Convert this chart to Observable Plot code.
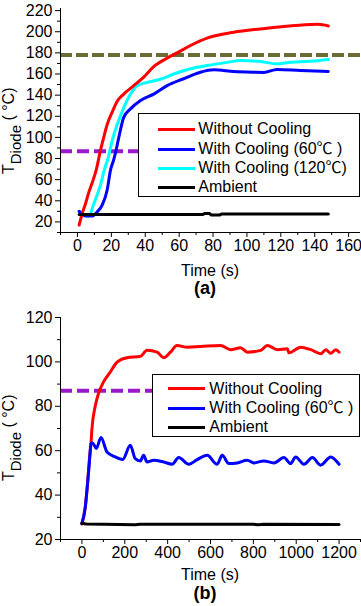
<!DOCTYPE html>
<html><head><meta charset="utf-8">
<script src="https://cdn.jsdelivr.net/npm/d3@7"></script>
<script src="https://cdn.jsdelivr.net/npm/@observablehq/plot@0.6"></script>
<style>
body{margin:0;background:#fff;font-family:"Liberation Sans",Arial,"Noto Sans CJK SC",sans-serif;color:#000;}
#wrap{position:relative;width:361px;height:606px;overflow:hidden;background:#fff;}
.panel{position:absolute;left:0;}
.legend{position:absolute;box-sizing:border-box;border:1px solid #000;background:#fff;}
.row{position:absolute;height:20px;font-size:16px;line-height:20px;white-space:nowrap;}
.sw{position:absolute;height:3px;width:37px;}
.ylab{position:absolute;left:0;top:0;transform-origin:0 0;font-size:16px;line-height:16px;white-space:nowrap;}
.ylab span{font-size:15px;position:relative;top:7px;}
.xlab{position:absolute;font-size:16px;line-height:12px;transform:translateX(-50%);white-space:nowrap;}
.tag{position:absolute;font-size:18px;line-height:14px;font-weight:bold;transform:translateX(-50%);white-space:nowrap;}
</style></head>
<body>
<div id="wrap">
  <div class="panel" id="pa" style="top:0"></div>
  <div class="panel" id="pb" style="top:300px"></div>
</div>
<script>
// ---------- Panel (a) data ----------
const aTimeNoCool = [1,2.8,4.7,6.5,8.7,11.2,13.6,15.5,17.5,20.5,23.4,27.3,33.2,39.1,45,52.9,58.8,66.7,76.5,92.2,108,121.7,137.5,142,148];
const aTempNoCool = [17,28,37,47,57,70,88,100,112,124,134,141,149,157,167,175,180,187,194,199.5,202.7,205,206.8,207,205.5];
const aTimeCool60 = [1,3,5.7,8.7,11.6,14.6,17.5,19.5,21.4,22.8,24.4,27.3,31.3,37.2,45,52.9,62.7,72.5,80.4,92.2,104,110,117.8,131.6,148];
const aTempCool60 = [30,27,25.5,25.5,29.5,36,50,69,79,88,100,119,127,135,141,149,155.5,161.7,164,162.4,161.7,161.5,164.3,163.3,162.4];
const aTimeCool120 = [1,3,4.7,6.7,9.6,13.6,15.8,18,20.5,23.4,27.3,31.3,35.2,41.1,49,56.8,66.7,76.5,88.3,96.2,108,117.8,125.7,137.5,148];
const aTempCool120 = [30,27,25.5,25.5,37,55,69,80,97,112,128,141,149,152,155,160,165,168,171,172.8,171.8,169.6,171.2,172,173.7];
const aTimeAmbient = [1,20,40,60,74,75,78,79,84,85,100,120,148];
const aTempAmbient = [27,27,27,27,27,28,28,26.5,26.5,27.5,27.5,27.5,27.5];
const aLimitUpper = [178];
const aLimitLower = [87];
const aXDomain = [-10,167], aYDomain = [10,222];
const aXTicks = [0,20,40,60,80,100,120,140,160];
const aXMinor = [-10,10,30,50,70,90,110,130,150];
const aYTicks = [20,40,60,80,100,120,140,160,180,200,220];
const aYMinor = [10,30,50,70,90,110,130,150,170,190,210];

// ---------- Panel (b) data ----------
const bTimeNoCool = [0,15,26,35.6,42,46.8,62,78,101,132,164,210,273,304,351,382,413,444,491,553,647,694,740,772,834,865,912,959,966,1021,1068,1115,1138,1161,1185,1200];
const bTempNoCool = [27,34,45,57,63,70,80,86,91,95.4,99.9,101.9,102.5,105.2,104.4,101.9,104.4,107.4,106.6,106.9,107.4,105.5,106.4,104.4,105.2,107.4,105.5,105.9,104.1,106.6,105.5,103.7,105.5,103.9,105.5,104.4];
const bTimeCool60 = [0,15.6,26.3,35.6,42,50,66.9,88.8,117,155.7,190,225.8,249,272.6,288,304,334.8,381.6,421,451.7,498.5,537.8,584.5,631,654.7,685.6,724.8,771.6,802.4,849,895.9,942.7,974,997.4,1036,1075.5,1114,1161,1200];
const bTempCool60 = [27.2,34.7,45.2,55.7,63.2,63.5,61,65.9,59.4,57.2,56,62.4,56.4,55.4,57.9,54.9,55.7,54.9,53.9,56.9,53.9,56,57.9,53.9,57.9,54.2,54.5,55.7,54.5,55.4,54.5,56.9,54.2,57.2,53.9,56.9,53.5,57.2,53.9];
const bTimeAmbient = [0,20,100,250,270,600,800,820,850,1200];
const bTempAmbient = [27.3,27,26.9,26.6,26.9,26.9,26.9,26.6,26.9,26.8];
const bLimitLower = [87];
const bXDomain = [-100,1300], bYDomain = [20,120];
const bXTicks = [0,200,400,600,800,1000,1200];
const bXMinor = [-100,100,300,500,700,900,1100,1300];
const bYTicks = [20,40,60,80,100,120];
const bYMinor = [30,50,70,90,110];

// ---------- Legends ----------
const aLegend = ["Without Cooling","With Cooling (60℃ )","With Cooling (120℃)","Ambient"];
const aColors = ["#ff0000","#0000ff","#00ffff","#000000"];
const bLegend = ["Without Cooling","With Cooling (60℃ )","Ambient"];
const bColors = ["#ff0000","#0000ff","#000000"];

const pairs = (t, v) => t.map((d, i) => ({t: d, v: v[i]}));
const lineOpts = (c) => ({x: "t", y: "v", stroke: c, strokeWidth: 3, curve: "monotone-x"});
const font = {fontFamily: "'Liberation Sans', Arial, sans-serif", fontSize: "16px", background: "transparent", overflow: "visible", color: "#000"};

function axes(xd, yd, xt, xm, yt, ym) {
  return [
    Plot.ruleX([xd[0]], {stroke: "#000", strokeWidth: 1}),
    Plot.ruleY([yd[0]], {stroke: "#000", strokeWidth: 1}),
    Plot.axisX({ticks: xt, tickSize: 5, tickPadding: 2, tickFormat: d => String(d), label: null}),
    Plot.axisX({ticks: xm, tickSize: 3, tickFormat: () => "", label: null}),
    Plot.axisY({ticks: yt, tickSize: 5, tickPadding: 3, tickFormat: d => String(d), label: null}),
    Plot.axisY({ticks: ym, tickSize: 3, tickFormat: () => "", label: null})
  ];
}

const plotA = Plot.plot({
  width: 361, height: 260,
  marginLeft: 60, marginRight: 1, marginTop: 8, marginBottom: 28,
  style: font,
  x: {domain: aXDomain, label: null},
  y: {domain: aYDomain, label: null},
  marks: [
    Plot.ruleY(aLimitUpper, {stroke: "#6b6b33", strokeWidth: 4, strokeDasharray: "12,4"}),
    Plot.ruleY(aLimitLower, {stroke: "#9a19cc", strokeWidth: 4, strokeDasharray: "12,5"}),
    Plot.line(pairs(aTimeCool120, aTempCool120), lineOpts(aColors[2])),
    Plot.line(pairs(aTimeCool60, aTempCool60), lineOpts(aColors[1])),
    Plot.line(pairs(aTimeNoCool, aTempNoCool), lineOpts(aColors[0])),
    Plot.line(pairs(aTimeAmbient, aTempAmbient), {...lineOpts(aColors[3]), curve: "linear"}),
    ...axes(aXDomain, aYDomain, aXTicks, aXMinor, aYTicks, aYMinor)
  ]
});
document.getElementById("pa").appendChild(plotA);

const plotB = Plot.plot({
  width: 361, height: 267,
  marginLeft: 60, marginRight: 1, marginTop: 17, marginBottom: 28,
  style: font,
  x: {domain: bXDomain, label: null},
  y: {domain: bYDomain, label: null},
  marks: [
    Plot.ruleY(bLimitLower, {stroke: "#9a19cc", strokeWidth: 4, strokeDasharray: "12,5"}),
    Plot.line(pairs(bTimeNoCool, bTempNoCool), lineOpts(bColors[0])),
    Plot.line(pairs(bTimeCool60, bTempCool60), lineOpts(bColors[1])),
    Plot.line(pairs(bTimeAmbient, bTempAmbient), {...lineOpts(bColors[2]), curve: "linear"}),
    ...axes(bXDomain, bYDomain, bXTicks, bXMinor, bYTicks, bYMinor)
  ]
});
document.getElementById("pb").appendChild(plotB);

// ---------- HTML titles and legends ----------
const wrap = document.getElementById("wrap");
function add(html, cls, style) {
  const d = document.createElement("div");
  d.className = cls; d.innerHTML = html; d.setAttribute("style", style);
  wrap.appendChild(d); return d;
}
add("T<span>Diode</span> ( °C)", "ylab", "transform:translate(1.3px,174px) rotate(-90deg)");
add("T<span>Diode</span> ( °C)", "ylab", "transform:translate(1.3px,481px) rotate(-90deg)");
add("Time (s)", "xlab", "left:210px;top:265px");
add("Time (s)", "xlab", "left:210px;top:569px");
add("(a)", "tag", "left:205px;top:281px");
add("(b)", "tag", "left:205px;top:586px");

function legend(labels, colors, box, rowTops, swTops, swLeft, txtLeft) {
  const lg = add("", "legend", box);
  labels.forEach((lab, i) => {
    const s = document.createElement("div");
    s.className = "sw";
    s.style.cssText = `left:${swLeft}px;top:${swTops[i]}px;background:${colors[i]}`;
    lg.appendChild(s);
    const r = document.createElement("div");
    r.className = "row";
    r.style.cssText = `left:${txtLeft}px;top:${rowTops[i]}px`;
    r.textContent = lab;
    lg.appendChild(r);
  });
}
legend(aLegend, aColors, "left:138px;top:113px;width:222px;height:84px", [5.2,24.7,43.7,63.2], [13.8,33.8,53.2,72.2], 19.3, 59.3);
legend(bLegend, bColors, "left:152px;top:374px;width:208px;height:63px", [3.7,22.7,42.2], [12.2,31.8,51.2], 15.3, 56.3);
</script>
</body></html>
